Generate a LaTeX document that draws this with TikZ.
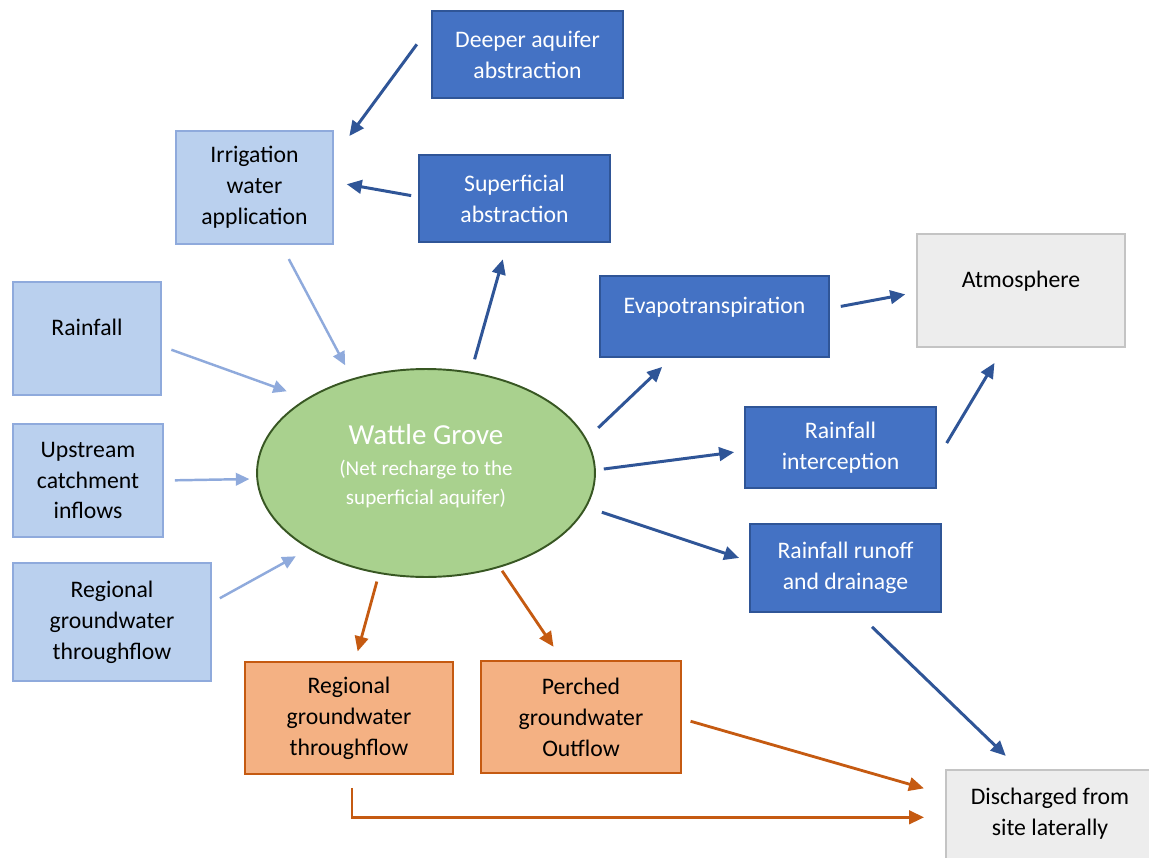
\documentclass[tikz,border=0pt]{standalone}
\usepackage{fontspec}
\setmainfont{Carlito}
\usetikzlibrary{shapes.geometric,arrows.meta,positioning}
\definecolor{dkblue}{HTML}{4472C4}
\definecolor{dkline}{HTML}{2F5597}
\definecolor{ltblue}{HTML}{BAD0EE}
\definecolor{ltline}{HTML}{8FAADC}
\definecolor{orfill}{HTML}{F4B183}
\definecolor{orline}{HTML}{C55A11}
\definecolor{grfill}{HTML}{A9D18E}
\definecolor{grline}{HTML}{385723}
\definecolor{gyfill}{HTML}{EDEDED}
\definecolor{gyline}{HTML}{C4C4C4}
\begin{document}
\begin{tikzpicture}[x=0.02cm,y=-0.02cm,
 every node/.style={font=\fontsize{13.5}{17.6}\selectfont,align=center,line width=1.1pt},
 dbox/.style={draw=dkline,fill=dkblue,text=white,minimum width=3.82cm,minimum height=1.74cm},
 lbox/.style={draw=ltline,fill=ltblue,minimum height=2.26cm},
 obox/.style={draw=orline,fill=orfill,minimum width=4.16cm,minimum height=2.24cm},
 gbox/.style={draw=gyline,fill=gyfill,minimum width=4.16cm,minimum height=2.26cm},
 raised/.style={text height=10pt,text depth=13pt},
 dkarr/.style={draw=dkline,line width=1.7pt,-{Triangle[length=3mm,width=2.7mm]}},
 ltarr/.style={draw=ltline,line width=1.4pt,-{Triangle[length=2.7mm,width=2.5mm]}},
 orarr/.style={draw=orline,line width=1.6pt,-{Triangle[length=3mm,width=2.7mm]}},
 cut/.style 2 args={shorten <=#1cm,shorten >=#2cm}]
\path[use as bounding box] (0,0) rectangle (1149,858);
\clip (0,0) rectangle (1149,858);
% inflows
\node[dbox](deep) at (527.5,54.5){Deeper aquifer\\abstraction};
\node[lbox,minimum width=3.14cm](irr) at (254.5,187.5){Irrigation\\water\\application};
\node[dbox](sup) at (514.5,198.5){Superficial\\abstraction};
\node[lbox,raised,minimum width=2.96cm](rain) at (87,338.5){Rainfall};
\node[lbox,minimum width=3cm](up) at (88,480.5){Upstream\\catchment\\inflows};
\node[lbox,minimum width=3.96cm,minimum height=2.36cm](rgl) at (112,622){Regional\\groundwater\\throughflow};
% site
\node[ellipse,draw=grline,fill=grfill,text=white,minimum width=6.76cm,minimum height=4.16cm,
 font=\fontsize{12}{16.5}\selectfont,text depth=10pt](wg) at (426,473)
 {{\fontsize{16.5}{16.5}\selectfont Wattle Grove}\\[1pt](Net recharge to the\\superficial aquifer)};
% outflows
\node[dbox,raised,minimum width=4.58cm,minimum height=1.62cm](evap) at (714.5,316.5){Evapotranspiration};
\node[gbox,raised](atm) at (1021,290.5){Atmosphere};
\node[dbox,minimum height=1.62cm](inter) at (840.5,447.5){Rainfall\\interception};
\node[dbox,minimum height=1.76cm](run) at (845.5,568){Rainfall runoff\\and drainage};
\node[obox](rgo) at (349,718){Regional\\groundwater\\throughflow};
\node[obox,minimum width=4cm](per) at (581,717){Perched\\groundwater\\Outflow};
\node[gbox,text depth=17pt](dis) at (1050,826.5){Discharged from\\site laterally};
% connectors
\draw[dkarr,cut={0.48}{0.52}](deep.163)--(irr.21);
\draw[dkarr,cut={0.14}{0.26}](sup.179)--(irr.4);
\draw[ltarr,cut={0.32}{0.30}](irr.-65)--(wg.128);
\draw[dkarr,cut={0.26}{0.34}](wg.66)--(sup.-99);
\draw[ltarr,cut={0.2}{0.42}](rain.-6)--(wg.148);
\draw[ltarr,cut={0.22}{0.14}](up.east)--(wg.182);
\draw[ltarr,cut={0.18}{0.30}](rgl.11)--(wg.213);
\draw[dkarr,cut={0.32}{0.26}](wg.12)--(evap.-136);
\draw[dkarr,cut={0.22}{0.22}](evap.4)--(atm.181);
\draw[dkarr,cut={0.16}{0.2}](wg.1)--(inter.182);
\draw[dkarr,cut={0.38}{0.35}](inter.-7)--(atm.-107);
\draw[dkarr,cut={0.32}{0.21}](wg.-12)--(run.176);
\draw[orarr,cut={0.16}{0.2}](wg.245)--(rgo.84);
\draw[orarr,cut={0.08}{0.32}](wg.-52)--(per.108);
\draw[orarr,cut={0.18}{0.44}](per.-1)--(dis.163);
\draw[dkarr,cut={0.4}{0.38}](run.-75)--(dis.118);
\draw[orarr,cut={0.26}{0.42}](rgo.-87)|-(dis.175);
\end{tikzpicture}
\end{document}
